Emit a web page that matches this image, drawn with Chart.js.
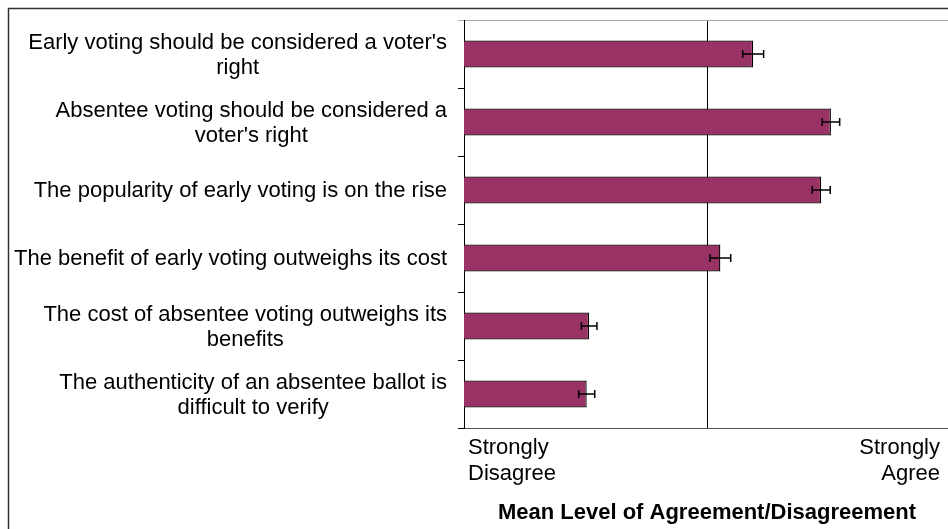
<!DOCTYPE html>
<html><head><meta charset="utf-8">
<script src="https://cdn.jsdelivr.net/npm/chart.js@4/dist/chart.umd.min.js"></script>
<style>
html,body{margin:0;padding:0;background:#fff;overflow:hidden;width:948px;height:529px;}
#wrap{position:relative;width:950px;height:529px;}
</style></head><body>
<div id="wrap"><canvas id="c" width="950" height="529"></canvas></div>
<script>
const categories = [
  ["Early voting should be considered a voter's", "right"],
  ["Absentee voting should be considered a", "voter's right"],
  ["The popularity of early voting is on the rise"],
  ["The benefit of early voting outweighs its cost"],
  ["The cost of absentee voting outweighs its", "benefits"],
  ["The authenticity of an absentee ballot is", "difficult to verify"]
];
const meanValues = [3.38, 4.02, 3.94, 3.11, 2.03, 2.01];
const errorValues = [0.086, 0.072, 0.074, 0.085, 0.064, 0.066];
const scaleMin = 1, scaleMid = 3, scaleMax = 5;
const xTickLabels = [["Strongly", "Disagree"], ["Strongly", "Agree"]];
const axisTitle = "Mean Level of Agreement/Disagreement";

const FONT = "'Liberation Sans', Arial, sans-serif";

const framePlugin = {
  id: 'frame',
  beforeDraw(chart) {
    const ctx = chart.ctx;
    ctx.save();
    ctx.fillStyle = '#fff';
    ctx.fillRect(0, 0, chart.width, chart.height);
    ctx.strokeStyle = '#333';
    ctx.lineWidth = 1.5;
    ctx.beginPath();
    ctx.moveTo(8.5, chart.height);
    ctx.lineTo(8.5, 8.5);
    ctx.lineTo(chart.width, 8.5);
    ctx.stroke();
    ctx.restore();
  }
};

const errorBarPlugin = {
  id: 'errorBars',
  afterDatasetsDraw(chart) {
    const meta = chart.getDatasetMeta(0);
    const xs = chart.scales.x;
    const ctx = chart.ctx;
    ctx.save();
    ctx.strokeStyle = '#000';
    ctx.lineWidth = 1.5;
    meta.data.forEach((bar, i) => {
      const v = meanValues[i], e = errorValues[i];
      const x1 = xs.getPixelForValue(v - e), x2 = xs.getPixelForValue(v + e), y = bar.y;
      ctx.beginPath();
      ctx.moveTo(x1, y); ctx.lineTo(x2, y);
      ctx.moveTo(x1, y - 4); ctx.lineTo(x1, y + 4);
      ctx.moveTo(x2, y - 4); ctx.lineTo(x2, y + 4);
      ctx.stroke();
    });
    ctx.restore();
  }
};

const labelPlugin = {
  id: 'labels',
  afterDraw(chart) {
    const ctx = chart.ctx, ys = chart.scales.y, xs = chart.scales.x, area = chart.chartArea;
    ctx.save();
    ctx.fillStyle = '#000';
    ctx.font = '22px ' + FONT;
    ctx.textBaseline = 'middle';
    ctx.textAlign = 'center';
    const right = area.left - 6 - 11;
    categories.forEach((lines, i) => {
      const cy = ys.getPixelForTick(i) + 1;
      const w = Math.max(...lines.map(l => ctx.measureText(l).width));
      const cx = right - w / 2;
      lines.forEach((l, j) => ctx.fillText(l, cx, cy + (j - (lines.length - 1) / 2) * 25));
    });
    const ly = area.bottom + 20;
    ctx.textAlign = 'left';
    xTickLabels[0].forEach((l, j) => ctx.fillText(l, xs.getPixelForValue(scaleMin) + 4, ly + j * 26));
    ctx.textAlign = 'right';
    xTickLabels[1].forEach((l, j) => ctx.fillText(l, xs.getPixelForValue(scaleMax) - 10, ly + j * 26));
    ctx.restore();
  }
};

new Chart(document.getElementById('c'), {
  type: 'bar',
  data: {
    labels: categories,
    datasets: [{
      data: meanValues,
      backgroundColor: '#993366',
      borderColor: '#000',
      borderWidth: 1.3,
      borderSkipped: false,
      barPercentage: 0.4,
      categoryPercentage: 1
    }]
  },
  options: {
    indexAxis: 'y',
    responsive: false,
    animation: false,
    devicePixelRatio: 1,
    layout: { padding: { left: 0, top: 20, right: 0, bottom: 3 } },
    plugins: { legend: { display: false }, tooltip: { enabled: false } },
    scales: {
      x: {
        type: 'linear', min: scaleMin, max: scaleMax,
        ticks: { display: false, stepSize: 2 },
        grid: {
          drawTicks: false,
          color: c => (c.tick && c.tick.value === scaleMid) ? '#000' : 'rgba(0,0,0,0)',
          lineWidth: 1
        },
        border: { color: '#555', width: 1 },
        title: { display: true, text: axisTitle, color: '#000',
          font: { family: FONT, size: 22, weight: 'bold' }, padding: { top: 0, bottom: 0 } },
        afterFit(s) { s.height = 98; }
      },
      y: {
        ticks: { display: false },
        grid: {
          offset: true,
          drawOnChartArea: true,
          color: c => c.index === 0 ? '#a8a8a8' : 'rgba(0,0,0,0)',
          tickColor: c => c.index === 0 ? '#a8a8a8' : '#000',
          tickLength: 6
        },
        border: { color: '#000', width: 1 },
        afterFit(s) { s.width = 464; }
      }
    }
  },
  plugins: [framePlugin, errorBarPlugin, labelPlugin]
});
</script>
</body></html>
